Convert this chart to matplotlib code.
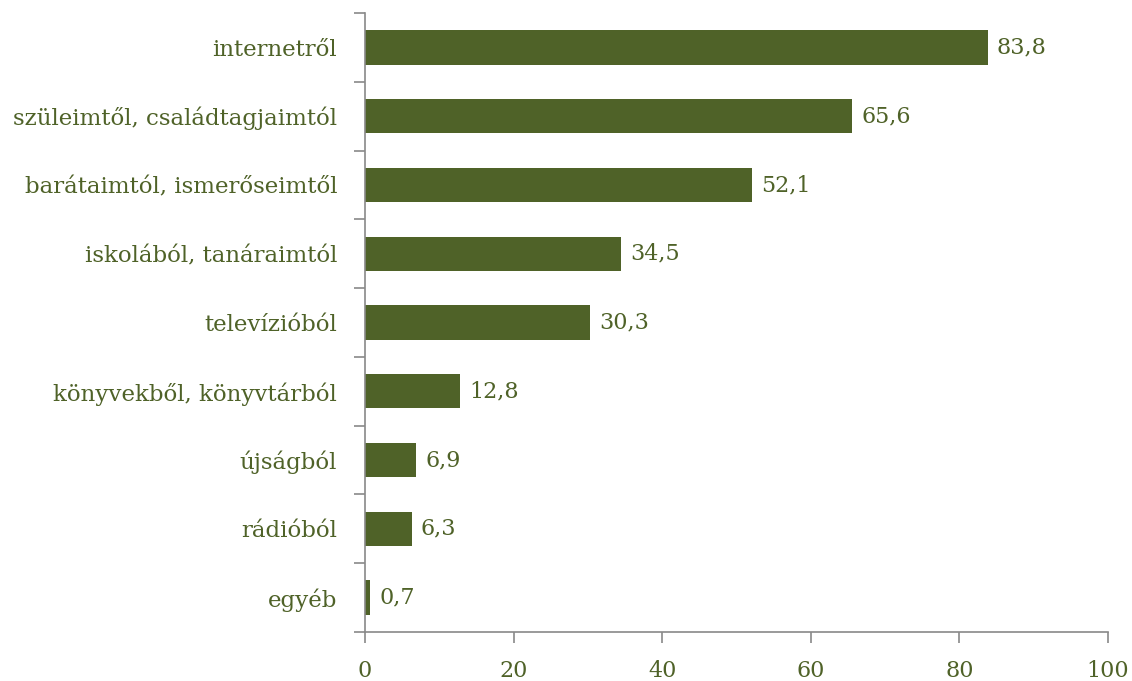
import numpy as np
import matplotlib
matplotlib.use("Agg")
from matplotlib import pyplot as plt

categories = ["internetről", "szüleimtől, családtagjaimtól", "barátaimtól, ismerőseimtől",
              "iskolából, tanáraimtól", "televízióból", "könyvekből, könyvtárból",
              "újságból", "rádióból", "egyéb"]
values = [83.8, 65.6, 52.1, 34.5, 30.3, 12.8, 6.9, 6.3, 0.7]
labels = ["83,8", "65,6", "52,1", "34,5", "30,3", "12,8", "6,9", "6,3", "0,7"]
xticks = [0, 20, 40, 60, 80, 100]

bar_color = "#4F6228"
text_color = "#4F6228"
axis_color = "#898989"

plt.rcParams["font.family"] = ["DejaVu Serif"]
fs = 16

fig = plt.figure(figsize=(11.32, 6.81), dpi=100)
ax = fig.add_axes([365 / 1132, 1 - 632 / 681, (1108 - 365) / 1132, (632 - 13) / 681])

n = len(categories)
ypos = np.arange(n)
ax.barh(ypos, values, height=0.5, color=bar_color)
for y, v, lab in zip(ypos, values, labels):
    ax.text(v + 1.2, y, lab, va="center", ha="left", fontsize=fs, color=text_color)

ax.set_xlim(0, 100)
ax.set_ylim(n - 0.5, -0.5)
ax.set_xticks(xticks)
ax.set_xticklabels([str(t) for t in xticks])
ax.set_yticks(ypos)
ax.set_yticklabels(categories)
ax.set_yticks(np.arange(n + 1) - 0.5, minor=True)

for s in ["top", "right"]:
    ax.spines[s].set_visible(False)
for s in ["left", "bottom"]:
    ax.spines[s].set_color(axis_color)
    ax.spines[s].set_linewidth(1.2)

ax.tick_params(axis="y", which="major", length=0, pad=20, labelsize=16.5, labelcolor=text_color)
ax.tick_params(axis="y", which="minor", length=8, width=1.2, color=axis_color, direction="out")
ax.tick_params(axis="x", length=8, width=1.2, color=axis_color, pad=12, labelsize=fs,
               labelcolor=text_color, direction="out")

fig.savefig("out.png", dpi=100)
